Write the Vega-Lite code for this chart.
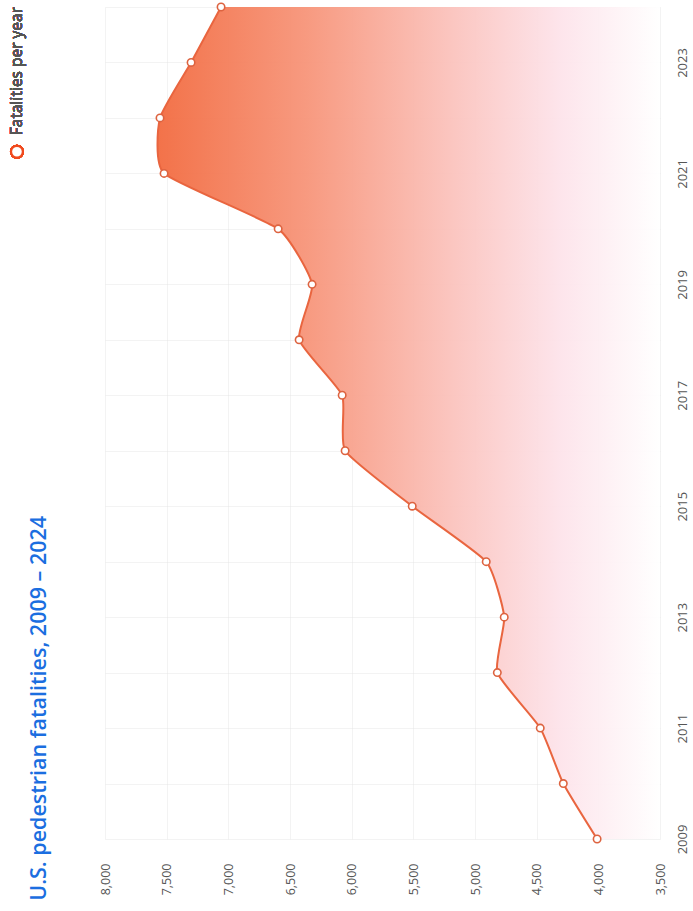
{
  "$schema": "https://vega.github.io/schema/vega-lite/v6.json",
  "width": 555,
  "height": 832,
  "autosize": {"type": "none"},
  "padding": {"left": 105, "top": 7, "right": 33, "bottom": 72},
  "background": "white",
  "title": {
    "text": "U.S. pedestrian fatalities, 2009 – 2024",
    "orient": "left",
    "anchor": "start",
    "frame": "bounds",
    "font": "Open Sans",
    "fontSize": 21.5,
    "fontWeight": 600,
    "color": "#1b6ee0",
    "offset": -44,
    "dx": -6
  },
  "config": {"view": {"stroke": null}},
  "data": {
    "values": [
      {"year": 2009, "fatalities": 4010},
      {"year": 2010, "fatalities": 4284},
      {"year": 2011, "fatalities": 4471},
      {"year": 2012, "fatalities": 4819},
      {"year": 2013, "fatalities": 4763},
      {"year": 2014, "fatalities": 4909},
      {"year": 2015, "fatalities": 5509},
      {"year": 2016, "fatalities": 6053},
      {"year": 2017, "fatalities": 6077},
      {"year": 2018, "fatalities": 6426},
      {"year": 2019, "fatalities": 6321},
      {"year": 2020, "fatalities": 6596},
      {"year": 2021, "fatalities": 7521},
      {"year": 2022, "fatalities": 7554},
      {"year": 2023, "fatalities": 7302},
      {"year": 2024, "fatalities": 7059}
    ]
  },
  "encoding": {
    "y": {
      "field": "year",
      "type": "quantitative",
      "scale": {"domain": [2009, 2024], "nice": false, "zero": false},
      "axis": {
        "orient": "right",
        "title": null,
        "values": [2009, 2010, 2011, 2012, 2013, 2014, 2015, 2016, 2017, 2018, 2019, 2020, 2021, 2022, 2023, 2024],
        "format": "d",
        "labelExpr": "datum.value % 2 == 1 ? datum.label : ''",
        "labelAngle": 270,
        "labelAlign": "center",
        "labelBaseline": "top",
        "labelPadding": 16,
        "labelFont": "Open Sans",
        "labelFontSize": 13,
        "labelColor": "#555555",
        "labelOverlap": false,
        "labelFlush": false,
        "ticks": false,
        "domain": false,
        "grid": true,
        "gridColor": "#e4e4e4",
        "gridOpacity": 0.45,
        "gridWidth": 1
      }
    },
    "x": {
      "field": "fatalities",
      "type": "quantitative",
      "scale": {"domain": [3500, 8000], "reverse": true, "nice": false, "zero": false},
      "axis": {
        "orient": "bottom",
        "title": null,
        "values": [3500, 4000, 4500, 5000, 5500, 6000, 6500, 7000, 7500, 8000],
        "format": ",d",
        "labelAngle": 270,
        "labelAlign": "right",
        "labelBaseline": "middle",
        "labelPadding": 24,
        "labelFont": "Open Sans",
        "labelFontSize": 12.5,
        "labelColor": "#555555",
        "labelFlush": false,
        "labelOverlap": false,
        "ticks": false,
        "domain": false,
        "grid": true,
        "gridColor": "#e4e4e4",
        "gridOpacity": 0.45,
        "gridWidth": 1
      }
    }
  },
  "layer": [
    {
      "mark": {
        "type": "area",
        "orient": "horizontal",
        "interpolate": "cardinal",
        "tension": 0.5,
        "opacity": 0.95,
        "color": {
          "gradient": "linear",
          "x1": 0, "y1": 0, "x2": 1, "y2": 0,
          "stops": [
            {"offset": 0, "color": "#f26b40"},
            {"offset": 0.3, "color": "#f7957a"},
            {"offset": 0.6, "color": "#fbc5c0"},
            {"offset": 0.8, "color": "#fde3ea"},
            {"offset": 1, "color": "#ffffff"}
          ]
        }
      },
      "encoding": {
        "x2": {"datum": 3500}
      }
    },
    {
      "mark": {"type": "line", "orient": "horizontal", "interpolate": "cardinal", "tension": 0.5, "color": "#e9653f", "strokeWidth": 2},
      "encoding": {"order": {"field": "year", "type": "quantitative"}}
    },
    {
      "mark": {"type": "point", "filled": true, "fill": "#ffffff", "stroke": "#dd6340", "strokeWidth": 1.6, "size": 55, "opacity": 1}
    },
    {
      "mark": {"type": "point", "filled": false, "fill": "#ffffff", "stroke": "#f04a1e", "strokeWidth": 2.2, "size": 140, "opacity": 1},
      "encoding": {
        "x": {"datum": 8714, "type": "quantitative"},
        "y": {"datum": 2021.39, "type": "quantitative"}
      }
    },
    {
      "mark": {"type": "text", "angle": 270, "align": "left", "baseline": "middle", "font": "Open Sans", "fontSize": 15.5, "color": "#555555"},
      "encoding": {
        "x": {"datum": 8714, "type": "quantitative"},
        "y": {"datum": 2021.69, "type": "quantitative"},
        "text": {"value": "Fatalities per year"}
      }
    }
  ]
}
